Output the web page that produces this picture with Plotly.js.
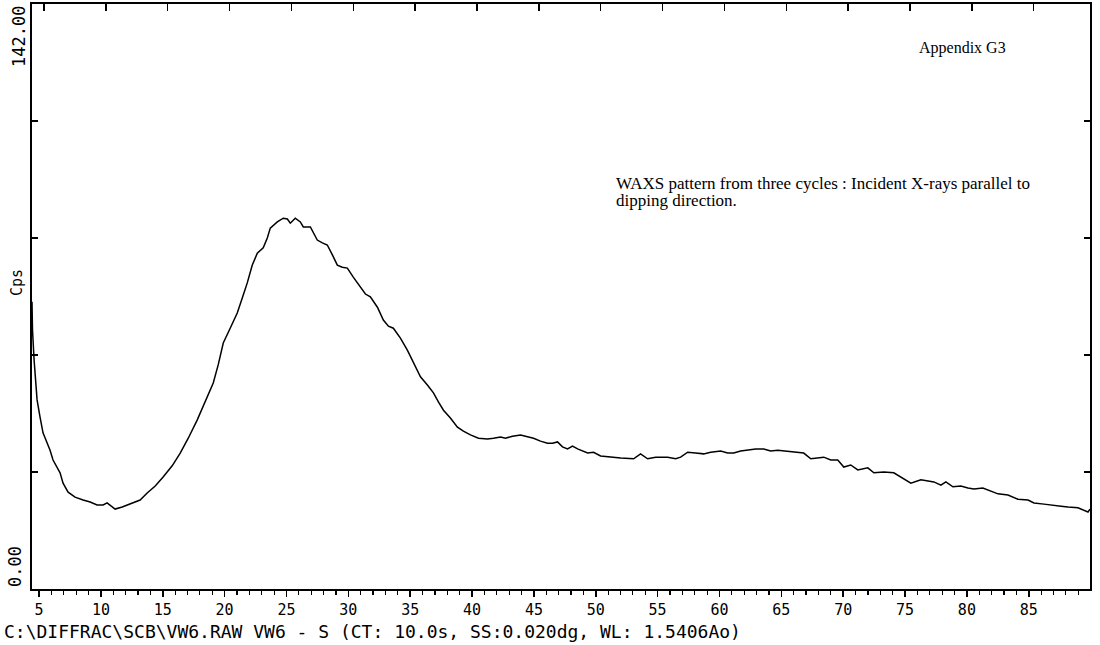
<!DOCTYPE html>
<html>
<head>
<meta charset="utf-8">
<script src="https://cdn.plot.ly/plotly-3.0.1.min.js"></script>
<style>
  html, body { margin: 0; padding: 0; background: #ffffff; }
  #chart { width: 1100px; height: 645px; }
</style>
</head>
<body>
<div id="chart"></div>
<script>
// 2-theta (degrees) and intensity (Cps)
const twoTheta = [
  4.43, 4.47, 4.60, 4.84, 5.08, 5.32, 5.89, 6.13, 6.70, 6.94,
  7.35, 7.91, 8.56, 9.13, 9.69, 10.18, 10.50, 10.83, 11.15, 11.72,
  12.36, 13.17, 13.74, 14.39, 15.03, 15.76, 16.41, 17.06, 17.78, 18.43,
  19.08, 19.48, 19.89, 20.45, 21.02, 21.42, 21.83, 22.23, 22.64, 23.12,
  23.45, 23.69, 24.26, 24.74, 25.07, 25.31, 25.71, 26.12, 26.36, 26.93,
  27.49, 27.90, 28.30, 28.71, 29.11, 29.51, 29.92, 30.40, 30.97, 31.38,
  31.78, 32.35, 32.83, 33.24, 33.64, 34.21, 34.77, 35.26, 35.83, 36.39,
  36.88, 37.28, 37.69, 38.25, 38.82, 39.30, 39.87, 40.52, 41.25, 41.73,
  42.30, 42.70, 43.27, 43.92, 44.48, 44.97, 45.53, 46.10, 46.50, 46.91,
  47.31, 47.72, 48.12, 48.53, 49.34, 49.82, 50.39, 51.20, 52.01, 53.06,
  53.62, 54.19, 54.84, 55.81, 56.46, 56.86, 57.43, 58.07, 58.72, 59.29,
  60.10, 60.66, 61.15, 61.71, 62.28, 62.93, 63.58, 64.14, 64.71, 65.19,
  66.00, 66.81, 67.38, 67.94, 68.43, 69.00, 69.56, 70.05, 70.61, 71.18,
  71.67, 71.99, 72.48, 73.28, 74.09, 74.66, 75.47, 76.28, 76.84, 77.33,
  77.90, 78.30, 78.87, 79.51, 80.08, 80.57, 81.29, 81.94, 82.51, 83.32,
  84.13, 84.94, 85.42, 86.23, 87.04, 87.61, 88.17, 88.98, 89.79, 89.95
];
const cps = [
  69.7, 62.9, 55.6, 45.9, 41.7, 37.9, 33.7, 31.3, 28.2, 25.7,
  23.5, 22.3, 21.6, 21.1, 20.4, 20.4, 20.9, 20.1, 19.4, 19.9,
  20.6, 21.6, 23.3, 25.0, 27.2, 29.9, 33.0, 36.6, 41.0, 45.4,
  50.0, 54.4, 59.7, 63.3, 67.0, 70.6, 74.3, 78.6, 81.5, 82.8,
  85.2, 87.6, 89.1, 90.0, 89.8, 88.8, 90.0, 89.1, 87.9, 87.9,
  84.7, 84.0, 83.5, 81.1, 78.6, 78.1, 77.9, 75.7, 73.3, 71.6,
  70.9, 68.4, 65.3, 63.8, 63.3, 60.9, 58.0, 55.1, 51.5, 49.5,
  47.6, 45.4, 43.4, 41.5, 39.3, 38.3, 37.4, 36.6, 36.4, 36.6,
  36.9, 36.6, 37.1, 37.4, 36.9, 36.6, 35.9, 35.4, 35.4, 35.7,
  34.5, 34.0, 34.7, 34.0, 33.0, 33.2, 32.3, 32.0, 31.8, 31.6,
  32.8, 31.6, 32.0, 32.0, 31.6, 32.0, 33.2, 33.0, 32.8, 33.2,
  33.5, 33.0, 33.0, 33.5, 33.7, 34.0, 34.0, 33.5, 33.7, 33.5,
  33.2, 33.0, 31.6, 31.8, 32.0, 31.3, 31.3, 29.6, 30.1, 28.9,
  29.1, 29.4, 28.2, 28.4, 28.2, 27.2, 25.7, 26.5, 26.2, 26.0,
  25.2, 26.0, 24.8, 25.0, 24.5, 24.3, 24.5, 23.8, 23.1, 22.8,
  21.8, 21.6, 20.9, 20.6, 20.4, 20.1, 19.9, 19.7, 18.7, 19.4
];

const xRange = [4.43, 89.95];
const yRange = [0, 142];
const xTickStep = 5;
const yTickStep = 28.4;

const yMinLabel = "0.00";
const yMaxLabel = "142.00";
const yTitle = "Cps";
const caption = "C:\\DIFFRAC\\SCB\\VW6.RAW VW6 - S (CT: 10.0s, SS:0.020dg, WL: 1.5406Ao)";
const noteTitle = "Appendix G3";
const noteLine1 = "WAXS pattern from three cycles : Incident X-rays parallel to";
const noteLine2 = "dipping direction.";

const W = 1100, H = 645;
const M = { l: 32, r: 10, t: 4, b: 56 };
const plotW = W - M.l - M.r, plotH = H - M.t - M.b;
function px(x) { return (x - M.l) / plotW; }
function py(y) { return (H - M.b - y) / plotH; }

const mono = "DejaVu Sans Mono, monospace";
const serif = "Liberation Serif, Times New Roman, serif";

const data = [
  {
    x: twoTheta, y: cps, type: "scatter", mode: "lines",
    line: { color: "#000000", width: 1.5, shape: "linear" },
    hoverinfo: "skip", showlegend: false
  },
  { x: [], y: [], xaxis: "x2", yaxis: "y", type: "scatter", mode: "lines", showlegend: false, hoverinfo: "skip" }
];

const layout = {
  width: W, height: H,
  margin: M,
  paper_bgcolor: "#ffffff", plot_bgcolor: "#ffffff",
  showlegend: false,
  xaxis: {
    range: xRange, tick0: 5, dtick: xTickStep, tickmode: "linear",
    ticks: "outside", ticklen: 6, tickwidth: 1.5, tickcolor: "#000",
    minor: { dtick: 1, tick0: 5, ticks: "outside", ticklen: 4, tickwidth: 1.2, tickcolor: "#000" },
    showline: true, linecolor: "#000", linewidth: 2, mirror: true,
    showgrid: false, zeroline: false,
    tickfont: { family: mono, size: 15, color: "#000" }
  },
  xaxis2: {
    overlaying: "x", side: "top",
    range: xRange, tick0: 5.4, dtick: xTickStep, tickmode: "linear",
    ticks: "inside", ticklen: 7, tickwidth: 1.5, tickcolor: "#000",
    showticklabels: false, showline: false, showgrid: false, zeroline: false
  },
  yaxis: {
    range: yRange, tick0: 0, dtick: yTickStep, tickmode: "linear",
    ticks: "inside", ticklen: 6, tickwidth: 1.5, tickcolor: "#000",
    showticklabels: false,
    showline: true, linecolor: "#000", linewidth: 2, mirror: "ticks",
    showgrid: false, zeroline: false
  },
  annotations: [
    { text: yMaxLabel, xref: "paper", yref: "paper", x: px(19), y: py(37),
      xanchor: "center", yanchor: "middle", textangle: -90, showarrow: false,
      font: { family: mono, size: 17, color: "#000" } },
    { text: yMinLabel, xref: "paper", yref: "paper", x: px(15), y: py(567),
      xanchor: "center", yanchor: "middle", textangle: -90, showarrow: false,
      font: { family: mono, size: 17, color: "#000" } },
    { text: yTitle, xref: "paper", yref: "paper", x: px(17), y: py(283),
      xanchor: "center", yanchor: "middle", textangle: -90, showarrow: false,
      font: { family: mono, size: 15, color: "#000" } },
    { text: caption, xref: "paper", yref: "paper", x: px(2), y: py(631),
      xanchor: "left", yanchor: "middle", showarrow: false,
      font: { family: mono, size: 18, color: "#000" } },
    { text: noteTitle, xref: "paper", yref: "paper", x: px(962), y: py(48),
      xanchor: "center", yanchor: "middle", showarrow: false,
      font: { family: serif, size: 16, color: "#000" } },
    { text: noteLine1, xref: "paper", yref: "paper", x: px(614), y: py(183),
      xanchor: "left", yanchor: "middle", showarrow: false,
      font: { family: serif, size: 17, color: "#000" } },
    { text: noteLine2, xref: "paper", yref: "paper", x: px(614), y: py(200),
      xanchor: "left", yanchor: "middle", showarrow: false,
      font: { family: serif, size: 17, color: "#000" } }
  ]
};

Plotly.newPlot("chart", data, layout, { staticPlot: true, displayModeBar: false });
</script>
</body>
</html>
